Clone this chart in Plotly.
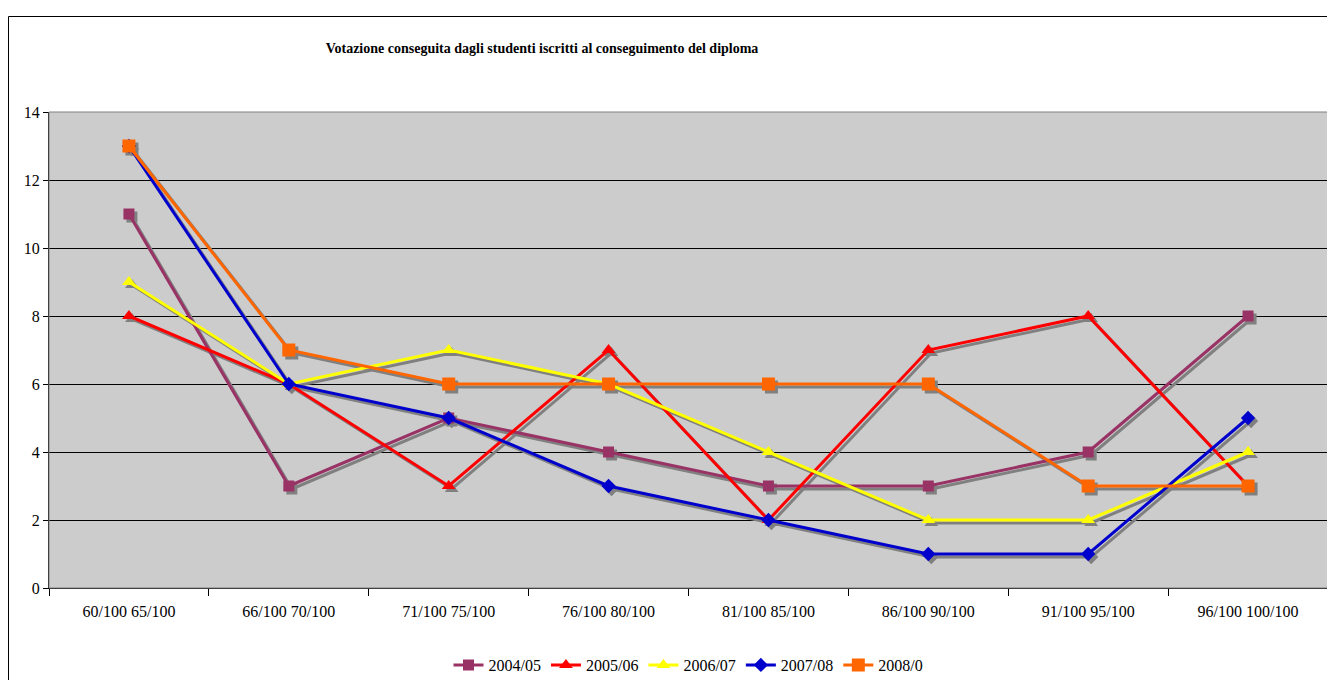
import plotly.graph_objects as go

categories = ["60/100 65/100", "66/100 70/100", "71/100 75/100", "76/100 80/100",
              "81/100 85/100", "86/100 90/100", "91/100 95/100", "96/100 100/100"]
s2004 = [11, 3, 5, 4, 3, 3, 4, 8]
s2005 = [8, 6, 3, 7, 2, 7, 8, 3]
s2006 = [9, 6, 7, 6, 4, 2, 2, 4]
s2007 = [13, 6, 5, 3, 2, 1, 1, 5]
s2008 = [13, 7, 6, 6, 6, 6, 3, 3]
series_names = ["2004/05", "2005/06", "2006/07", "2007/08", "2008/0"]
y_ticks = [0, 2, 4, 6, 8, 10, 12, 14]
title = "Votazione conseguita dagli studenti iscritti al conseguimento del diploma"

series = [s2004, s2005, s2006, s2007, s2008]
colors = ["#993366", "#FF0000", "#FFFF00", "#0000CC", "#FF6600"]
symbols = ["square", "triangle-up", "triangle-up", "diamond", "square"]
sizes = [11, 12, 12, 11, 13]

# page has an 8px body margin; figure coords = page coords - 8
W, H = 1327, 672
ml, mr, mt, mb = 41, 7, 104, 92
pw, ph = W - ml - mr, H - mt - mb
xr = [-0.5, len(categories) - 0.5]
yr = [0, 14]
ux = (xr[1] - xr[0]) / pw
uy = (yr[1] - yr[0]) / ph
off = 3

fig = go.Figure()
# drop shadows (main axes, range shifted so they sit 3px down-right)
for vals, sym, sz in zip(series, symbols, sizes):
    fig.add_trace(go.Scatter(x=categories, y=vals, mode="lines+markers", xaxis="x", yaxis="y",
                             line=dict(color="#808080", width=3),
                             marker=dict(symbol=sym, size=sz, color="#808080", line=dict(width=0)),
                             showlegend=False, hoverinfo="skip", cliponaxis=False))
for name, vals, col, sym, sz in zip(series_names, series, colors, symbols, sizes):
    fig.add_trace(go.Scatter(x=categories, y=vals, name=name, mode="lines+markers", xaxis="x2", yaxis="y2",
                             line=dict(color=col, width=3),
                             marker=dict(symbol=sym, size=sz, color=col, line=dict(width=0)),
                             cliponaxis=False))

font_fam = "Liberation Serif, Times New Roman, serif"
fig.update_layout(
    width=W, height=H,
    margin=dict(l=ml, r=mr, t=mt, b=mb, autoexpand=False),
    paper_bgcolor="white", plot_bgcolor="#CCCCCC",
    font=dict(family=font_fam, size=16, color="black"),
    title=dict(text="<b>" + title + "</b>", x=534 / W, xanchor="center", xref="container",
               y=1 - 40 / H, yanchor="middle", yref="container", automargin=False,
               font=dict(family=font_fam, size=14, color="black")),
    xaxis=dict(type="category", categoryorder="array", categoryarray=categories,
               range=[xr[0] - off * ux, xr[1] - off * ux], visible=False, fixedrange=True, automargin=False),
    yaxis=dict(range=[yr[0] + off * uy, yr[1] + off * uy], visible=False, fixedrange=True, automargin=False),
    xaxis2=dict(overlaying="x", type="category", categoryorder="array", categoryarray=categories,
                range=xr, showgrid=False, zeroline=False, showline=True, linecolor="black", linewidth=1,
                ticks="outside", ticklen=7, tickcolor="black", tickson="boundaries", automargin=False,
                ticklabelstandoff=9,
                tickfont=dict(family=font_fam, size=16), side="bottom", anchor="y2"),
    yaxis2=dict(overlaying="y", range=yr, tickmode="array", tickvals=y_ticks,
                showgrid=True, gridcolor="black", gridwidth=1, zeroline=False,
                showline=True, linecolor="black", linewidth=1, automargin=False,
                ticks="outside", ticklen=5, tickcolor="black",
                tickfont=dict(family=font_fam, size=16), side="left", anchor="x2"),
    legend=dict(orientation="h", x=0.5, xanchor="center", y=-(657 - (H - mb)) / ph, yanchor="middle",
                font=dict(family=font_fam, size=16), itemwidth=30, tracegroupgap=0,
                bgcolor="rgba(0,0,0,0)"),
    showlegend=True,
)
fig.add_shape(type="rect", xref="paper", yref="paper", x0=0, x1=1, y0=0, y1=1,
              line=dict(color="#808080", width=1), layer="above")
fig.add_shape(type="rect", xref="paper", yref="paper",
              x0=(0.5 - ml) / pw, x1=(W + 10 - ml) / pw,
              y0=-(H + 10 - (H - mb)) / ph, y1=((H - mb) - 8.5) / ph,
              line=dict(color="black", width=1), layer="above")

fig.write_html("out.html")
